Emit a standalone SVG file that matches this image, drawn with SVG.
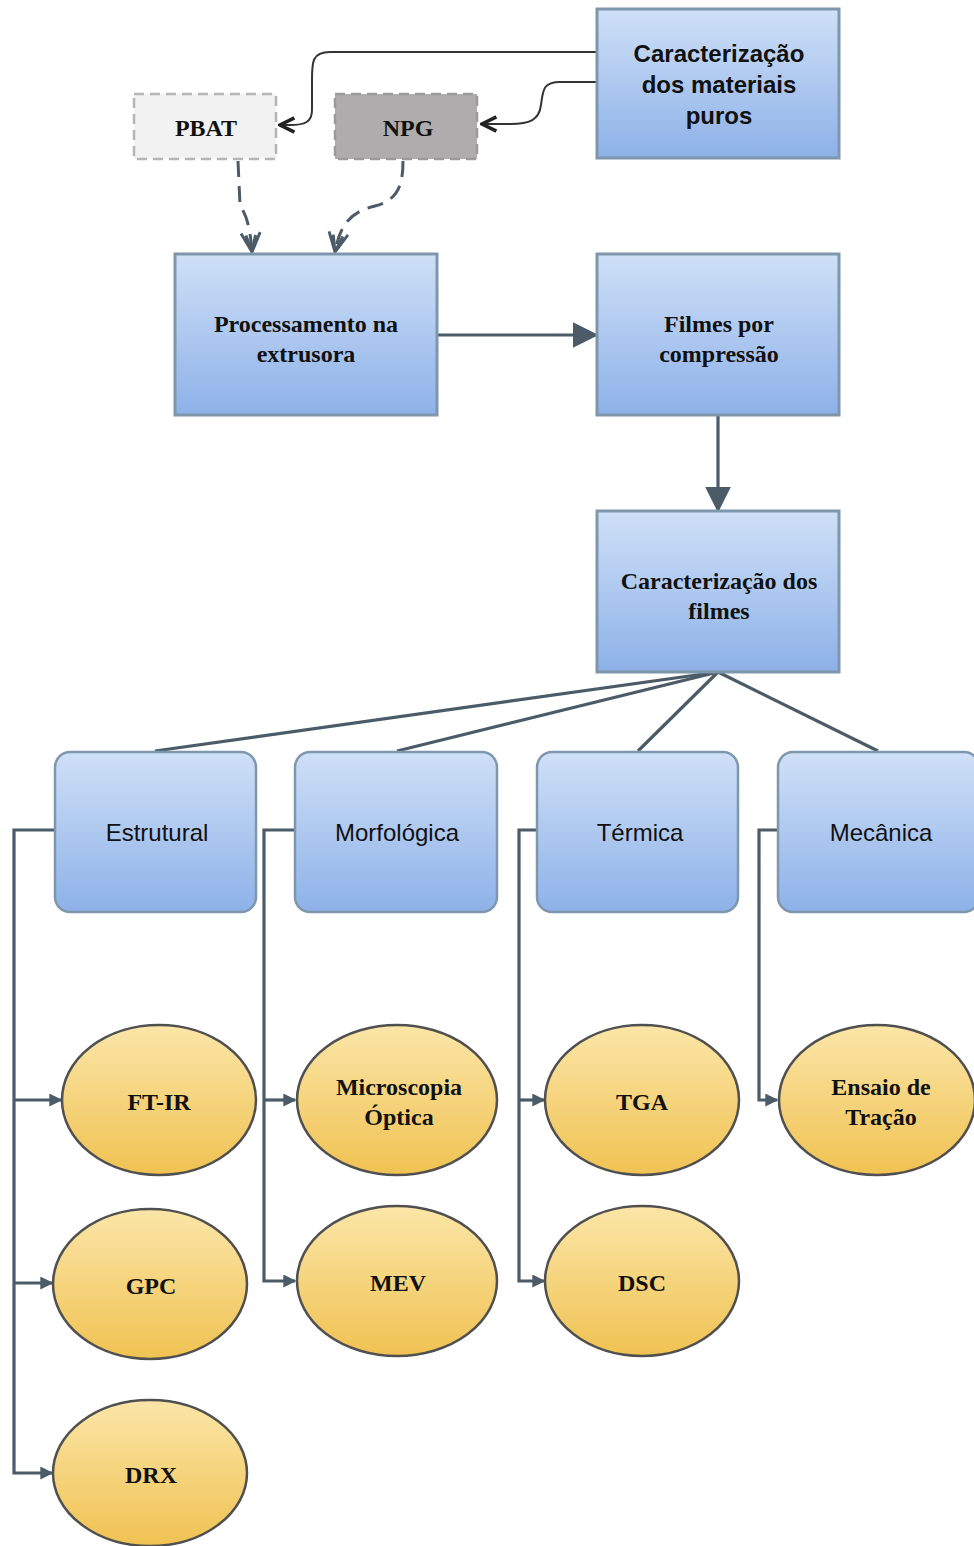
<svg xmlns="http://www.w3.org/2000/svg" width="974" height="1546" viewBox="0 0 974 1546">
<defs>
<linearGradient id="gBlue" x1="0" y1="0" x2="0" y2="1">
<stop offset="0" stop-color="#cfe0f7"/>
<stop offset="1" stop-color="#8db1e8"/>
</linearGradient>
<linearGradient id="gYel" x1="0" y1="0" x2="0" y2="1">
<stop offset="0" stop-color="#fbe6a8"/>
<stop offset="1" stop-color="#f0c252"/>
</linearGradient>
<marker id="triBig" viewBox="0 0 10 10" refX="9" refY="5" markerWidth="26" markerHeight="26" markerUnits="userSpaceOnUse" orient="auto">
<path d="M0,0 L10,5 L0,10 Z" fill="#4b5c68"/>
</marker>
<marker id="triSm" viewBox="0 0 10 10" refX="9" refY="5" markerWidth="13" markerHeight="13" markerUnits="userSpaceOnUse" orient="auto">
<path d="M0,0 L10,5 L0,10 Z" fill="#4b5c68"/>
</marker>
<marker id="open" viewBox="0 0 10 10" refX="9" refY="5" markerWidth="18" markerHeight="18" markerUnits="userSpaceOnUse" orient="auto">
<path d="M1,1 L9,5 L1,9" fill="none" stroke="#222" stroke-width="2"/>
</marker>
<marker id="openDash" viewBox="0 0 10 10" refX="9" refY="5" markerWidth="24" markerHeight="24" markerUnits="userSpaceOnUse" orient="auto">
<path d="M1,1 L9,5 L1,9 M2,3 L9,5 L2,7" fill="none" stroke="#4b5c68" stroke-width="1.2"/>
</marker>
</defs>
<style>
.box{fill:url(#gBlue);stroke:#7f97ad;stroke-width:3}
.rbox{fill:url(#gBlue);stroke:#7f97ad;stroke-width:2.5}
.ell{fill:url(#gYel);stroke:#505050;stroke-width:2.5}
.conn{fill:none;stroke:#4b5c68;stroke-width:3.2}
.thin{fill:none;stroke:#333;stroke-width:2}
.dash{fill:none;stroke:#4b5c68;stroke-width:3;stroke-dasharray:16 9}
.serif{font-family:"Liberation Serif","Times New Roman",serif;font-weight:bold;font-size:24px;fill:#111;text-anchor:middle}
.sansb{font-family:"Liberation Sans",Arial,sans-serif;font-weight:bold;font-size:24px;fill:#111;text-anchor:middle}
.sans{font-family:"Liberation Sans",Arial,sans-serif;font-size:24px;fill:#111;text-anchor:middle}
</style>
<g id="connectors">
<path class="thin" d="M597,52 L330,52 C312,52 312,62 312,80 L312,110 C312,122 305,125 290,125 L280,125" marker-end="url(#open)"/>
<path class="thin" d="M597,82 L560,82 C543,82 543,90 541,105 C539,120 530,124 510,124 L482,124" marker-end="url(#open)"/>
<path class="dash" d="M238,161 L240,205 C246,215 250,225 252,252" marker-end="url(#openDash)"/>
<path class="dash" d="M403,161 C403,185 398,200 375,206 C350,212 340,225 335,252" marker-end="url(#openDash)"/>
<path class="conn" d="M437,335 L596,335" marker-end="url(#triBig)"/>
<path class="conn" d="M718,415 L718,510" marker-end="url(#triBig)"/>
<path class="conn" d="M718,672 L155,751"/>
<path class="conn" d="M718,672 L397,751"/>
<path class="conn" d="M718,672 L638,751"/>
<path class="conn" d="M718,672 L878,751"/>
<path class="conn" d="M55,830 L14,830 L14,1473 L52,1473" marker-end="url(#triSm)"/>
<path class="conn" d="M14,1100 L61,1100" marker-end="url(#triSm)"/>
<path class="conn" d="M14,1283 L52,1283" marker-end="url(#triSm)"/>
<path class="conn" d="M295,830 L264,830 L264,1281 L295,1281" marker-end="url(#triSm)"/>
<path class="conn" d="M264,1100 L295,1100" marker-end="url(#triSm)"/>
<path class="conn" d="M537,830 L519,830 L519,1281 L544,1281" marker-end="url(#triSm)"/>
<path class="conn" d="M519,1100 L544,1100" marker-end="url(#triSm)"/>
<path class="conn" d="M778,830 L759,830 L759,1100 L777,1100" marker-end="url(#triSm)"/>
</g>
<g id="node-caract-puros">
<rect class="box" x="597" y="9" width="242" height="149"/>
<text class="sansb" x="719" y="62">Caracterização</text>
<text class="sansb" x="719" y="93">dos materiais</text>
<text class="sansb" x="719" y="124">puros</text>
</g>
<g id="node-pbat">
<rect x="134" y="94" width="142" height="65" fill="#f2f2f2" stroke="#b5b5b5" stroke-width="2.5" stroke-dasharray="10 6"/>
<text class="serif" x="206" y="136">PBAT</text>
</g>
<g id="node-npg">
<rect x="335" y="94" width="142" height="65" fill="#aeacac" stroke="#9a9a9a" stroke-width="2.5" stroke-dasharray="10 6"/>
<text class="serif" x="408" y="136">NPG</text>
</g>
<g id="node-processamento">
<rect class="box" x="175" y="254" width="262" height="161"/>
<text class="serif" x="306" y="332">Processamento na</text>
<text class="serif" x="306" y="362">extrusora</text>
</g>
<g id="node-filmes">
<rect class="box" x="597" y="254" width="242" height="161"/>
<text class="serif" x="719" y="332">Filmes por</text>
<text class="serif" x="719" y="362">compressão</text>
</g>
<g id="node-caract-filmes">
<rect class="box" x="597" y="511" width="242" height="161"/>
<text class="serif" x="719" y="589">Caracterização dos</text>
<text class="serif" x="719" y="619">filmes</text>
</g>
<g id="node-estrutural">
<rect class="rbox" x="55" y="752" width="201" height="160" rx="15"/>
<text class="sans" x="157" y="841">Estrutural</text>
</g>
<g id="node-morfologica">
<rect class="rbox" x="295" y="752" width="202" height="160" rx="15"/>
<text class="sans" x="397" y="841">Morfológica</text>
</g>
<g id="node-termica">
<rect class="rbox" x="537" y="752" width="201" height="160" rx="15"/>
<text class="sans" x="640" y="841">Térmica</text>
</g>
<g id="node-mecanica">
<rect class="rbox" x="778" y="752" width="201" height="160" rx="15"/>
<text class="sans" x="881" y="841">Mecânica</text>
</g>
<g id="node-ftir">
<ellipse class="ell" cx="159" cy="1100" rx="97" ry="75"/>
<text class="serif" x="159" y="1110">FT-IR</text>
</g>
<g id="node-microscopia">
<ellipse class="ell" cx="397" cy="1100" rx="100" ry="75"/>
<text class="serif" x="399" y="1095">Microscopia</text>
<text class="serif" x="399" y="1125">Óptica</text>
</g>
<g id="node-tga">
<ellipse class="ell" cx="642" cy="1100" rx="97" ry="75"/>
<text class="serif" x="642" y="1110">TGA</text>
</g>
<g id="node-ensaio">
<ellipse class="ell" cx="877" cy="1100" rx="98" ry="75"/>
<text class="serif" x="881" y="1095">Ensaio de</text>
<text class="serif" x="881" y="1125">Tração</text>
</g>
<g id="node-gpc">
<ellipse class="ell" cx="150" cy="1284" rx="97" ry="75"/>
<text class="serif" x="151" y="1294">GPC</text>
</g>
<g id="node-mev">
<ellipse class="ell" cx="397" cy="1281" rx="100" ry="75"/>
<text class="serif" x="398" y="1291">MEV</text>
</g>
<g id="node-dsc">
<ellipse class="ell" cx="642" cy="1281" rx="97" ry="75"/>
<text class="serif" x="642" y="1291">DSC</text>
</g>
<g id="node-drx">
<ellipse class="ell" cx="150" cy="1473" rx="97" ry="73"/>
<text class="serif" x="151" y="1483">DRX</text>
</g>
</svg>
